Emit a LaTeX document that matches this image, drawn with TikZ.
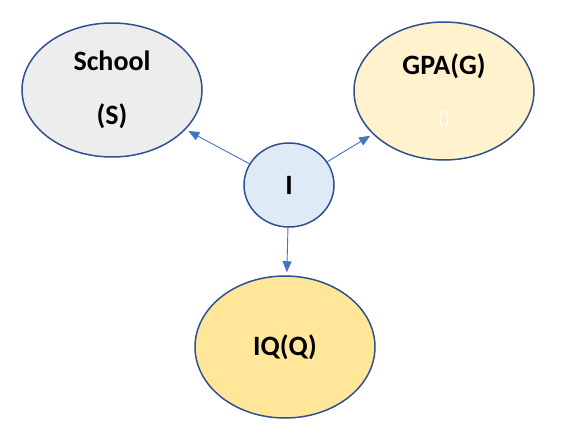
\documentclass[tikz,border=0pt]{standalone}
\usepackage{fontspec}
\setmainfont{Carlito}
\usetikzlibrary{arrows.meta,shapes.geometric}

\definecolor{rim}{HTML}{2F528F}
\definecolor{arrowblue}{HTML}{4472C4}
\definecolor{grayfill}{HTML}{EDEDED}
\definecolor{creamfill}{HTML}{FFF2CC}
\definecolor{bluefill}{HTML}{DEEBF7}
\definecolor{goldfill}{HTML}{FFE699}

\begin{document}
\begin{tikzpicture}[x=1pt,y=-1pt,
        var/.style={ellipse,draw=rim,line width=1.5pt,inner sep=0pt,align=center,
          minimum width=180pt,minimum height=136pt,
          font=\fontsize{28}{34}\selectfont\bfseries},
        link/.style={->,>={Triangle[length=11pt,width=9pt]},shorten >=3pt,
          color=arrowblue,line width=0.9pt}]

  \useasboundingbox (0,0) rectangle (564,434);

  \node[var,fill=bluefill,minimum width=90pt,minimum height=84pt] (i) at (289,185) {I};
  \node[var,fill=grayfill,minimum height=134pt] (s) at (112,90)
        {School\\[20pt](S)};
  \node[var,fill=creamfill,minimum height=138pt] (g) at (444,91)
        {GPA(G)\\[17pt]{\color{white}\fontsize{20}{24}\selectfont\mdseries()}};
  \node[var,fill=goldfill,minimum height=142pt] (q) at (285,347)
        {IQ(Q)};

  \draw[link] (i) -- (s);
  \draw[link] (i) -- (g);
  \draw[link] (i) -- (q);

\end{tikzpicture}
\end{document}
